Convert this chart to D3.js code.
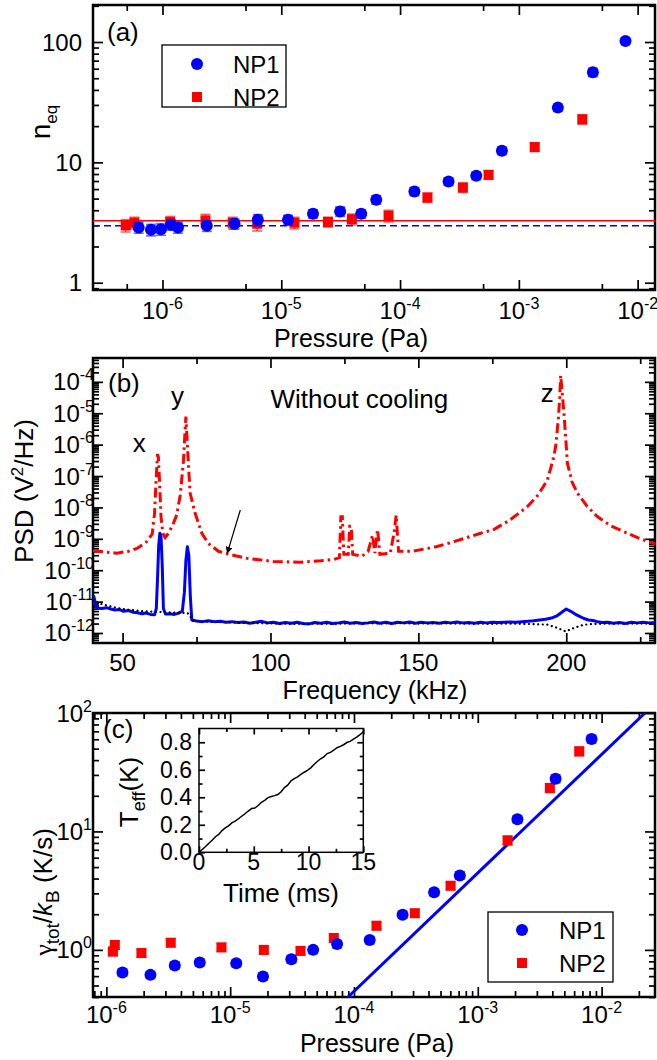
<!DOCTYPE html>
<html>
<head>
<meta charset="utf-8">
<script src="https://cdn.jsdelivr.net/npm/d3@7"></script>
<style>
  body { margin: 0; background: #fff; }
  svg { display: block; }
</style>
</head>
<body>
<div id="chart"></div>
<script>
// ---------- data: panel (a), n_eq vs pressure ----------
const pressA1 = [6.3e-7, 8.0e-7, 9.7e-7, 1.18e-6, 1.35e-6, 2.36e-6, 4.04e-6, 6.35e-6, 1.14e-5, 1.85e-5,
                 3.13e-5, 4.71e-5, 6.3e-5, 1.32e-4, 2.56e-4, 4.38e-4, 7.2e-4, 2.13e-3, 4.2e-3, 7.9e-3];
const neqA1   = [2.88, 2.75, 2.78, 3.03, 2.88, 2.97, 3.09, 3.33, 3.33, 3.74,
                 3.91, 3.74, 4.89, 5.73, 6.93, 7.73, 12.5, 28.5, 56, 102];
const errA1   = [0.3, 0.3, 0.3, 0.3, 0.3, 0.3, 0.3, 0.35, 0.3, 0.3,
                 0.35, 0.3, 0.4, 0.45, 0.5, 0.55, 0.9, 2.0, 4.5, 6];
const pressA2 = [4.9e-7, 5.8e-7, 1.16e-6, 2.3e-6, 3.9e-6, 6.27e-6, 1.29e-5, 2.47e-5, 3.93e-5, 8.0e-5,
                 1.7e-4, 3.38e-4, 5.56e-4, 1.36e-3, 3.42e-3];
const neqA2   = [2.99, 3.15, 3.2, 3.3, 3.15, 3.09, 3.15, 3.2, 3.37, 3.6, 5.1, 6.18, 7.88, 13.4, 22.8];
const errA2   = [0.35, 0.35, 0.35, 0.4, 0.35, 0.4, 0.35, 0.3, 0.35, 0.4, 0.45, 0.55, 0.65, 1.1, 2.0];
const levelA1 = 2.97;   // blue dashed
const levelA2 = 3.27;   // red solid

// ---------- data: panel (b), PSD vs frequency ----------
const freqRed = [40, 44, 48, 52, 55, 58, 60, 60.8, 61.3, 61.8, 62.1, 62.5, 63.0, 63.6, 64.4, 65.5, 67, 68.3,
                 69.5, 70.6, 71.1, 71.4, 71.7, 72.3, 72.85, 74.5, 76.8, 79, 82.4, 86, 92, 101, 110, 117,
                 121.5, 123.3, 123.8, 124.3, 124.8, 126.3, 126.8, 127.3, 127.8, 131, 133, 134.5, 135.3,
                 136.2, 137.0, 140.5, 141.8, 142.5, 143.3, 148, 156, 162, 170, 175.6, 181, 186.9, 190.5,
                 193.6, 195.5, 196.4, 197.3, 197.8, 198.1, 198.6, 199.3, 200.4, 202, 203.8, 207, 210.5,
                 215, 220.7, 225, 230];
const psdRed  = [4.2e-10, 3.8e-10, 3.5e-10, 4.0e-10, 5.0e-10, 7.9e-10, 1.4e-9, 6.3e-9, 6.3e-8, 5.0e-7, 4.0e-7,
                 6.3e-8, 5.0e-9, 1.5e-9, 1.1e-9, 1.5e-9, 2.8e-9, 5.8e-9,
                 2.5e-8, 3.2e-7, 2.5e-6, 7.8e-6, 2.3e-6, 2.0e-7, 2.8e-8, 6.6e-9, 1.5e-9, 7.1e-10, 4.0e-10,
                 3.2e-10, 2.4e-10, 1.9e-10, 1.8e-10, 2.0e-10,
                 2.2e-10, 2.5e-10, 5.0e-9, 5.0e-9, 3.2e-10, 3.2e-10, 2.5e-9, 2.5e-9, 3.2e-10, 2.8e-10,
                 4.0e-10, 1.3e-9, 3.5e-10,
                 2.0e-9, 3.2e-10, 3.5e-10, 1.6e-9, 5.6e-9, 4.0e-10, 4.0e-10, 5.6e-10, 8.1e-10, 1.4e-9,
                 2.0e-9, 4.0e-9, 1.07e-8, 2.5e-8,
                 7.4e-8, 3.2e-7, 8.5e-7, 6.3e-6, 3.2e-5, 1.6e-4, 5.0e-5, 7.8e-6, 2.5e-7, 6.3e-8, 2.8e-8,
                 1.1e-8, 5.1e-9, 2.6e-9, 1.5e-9, 1.0e-9, 6.9e-10];

const freqBlue = [40, 40.3, 40.7, 41.3, 43, 44.5, 46, 47.5, 49, 50.3, 52, 53.5, 55, 56.5, 58, 59.5, 60.8,
                  61.4, 61.8, 62.2, 62.6, 63.0, 63.4, 63.8, 64.5, 66, 67.5, 69, 70.2, 70.9, 71.4, 71.9,
                  72.4, 72.9, 73.4, 75, 77, 79, 81, 83, 85, 87, 89, 91, 93, 95, 97, 99, 101, 103, 105,
                  107, 109, 111, 113, 115, 117, 119, 121, 123, 125, 127, 129, 131, 133, 135, 137, 139,
                  141, 143, 145, 147, 149, 151, 153, 155, 157, 159, 161, 163, 165, 167, 169, 171, 173,
                  175, 177, 179, 181, 183, 185, 187, 189, 191, 193, 195, 197, 198.5, 200, 201.5, 203,
                  204.5, 206, 207.5, 209, 210.5, 212, 214, 216, 218, 220, 222, 224, 226, 228, 230];
const psdBlue  = [8.0e-12, 1.45e-11, 1.0e-11, 6.3e-12, 6.0e-12, 6.4e-12, 5.8e-12, 5.4e-12, 5.6e-12, 4.9e-12,
                  5.2e-12, 4.6e-12, 4.4e-12, 4.1e-12, 4.3e-12, 3.9e-12, 3.8e-12,
                  6e-12, 5e-11, 6e-10, 1.5e-9, 1.2e-9, 1.5e-10, 6e-12, 4.0e-12, 4.1e-12, 3.9e-12, 4.3e-12,
                  5e-12, 2e-11, 2e-10, 5.6e-10,
                  3e-10, 1.5e-11, 2.6e-12, 2.4e-12, 2.3e-12, 2.45e-12, 2.3e-12, 2.35e-12, 2.2e-12, 2.3e-12,
                  2.15e-12, 2.25e-12, 2.05e-12, 2.2e-12, 2.35e-12, 2.1e-12, 2.2e-12, 2.0e-12, 2.15e-12,
                  2.05e-12, 2.2e-12, 2.0e-12, 1.95e-12, 2.15e-12, 2.05e-12, 2.2e-12, 2.0e-12, 2.1e-12,
                  2.25e-12, 2.05e-12, 2.15e-12, 2.0e-12, 2.1e-12, 2.25e-12, 2.05e-12, 2.2e-12,
                  2.0e-12, 2.2e-12, 2.1e-12, 2.25e-12, 2.05e-12, 2.2e-12, 2.1e-12, 2.15e-12, 2.05e-12,
                  2.2e-12, 2.1e-12, 2.25e-12, 2.1e-12, 2.15e-12, 2.05e-12, 2.2e-12, 2.1e-12,
                  2.2e-12, 2.15e-12, 2.2e-12, 2.25e-12, 2.2e-12, 2.3e-12, 2.35e-12, 2.45e-12, 2.6e-12,
                  2.75e-12, 3.0e-12, 3.6e-12, 4.6e-12, 5.8e-12, 4.9e-12, 4.0e-12,
                  3.4e-12, 2.9e-12, 2.6e-12, 2.5e-12, 2.3e-12, 2.15e-12, 2.2e-12, 2.05e-12, 2.15e-12,
                  2.0e-12, 2.2e-12, 2.1e-12, 2.2e-12, 2.1e-12, 2.15e-12];

const freqDot = [40, 42, 44, 46, 48, 50, 52, 54, 56, 58, 60, 62, 64, 66, 68, 70, 72, 73, 74, 78, 84, 90,
                 96, 102, 108, 114, 120, 126, 132, 138, 144, 150, 156, 162, 168, 174, 180, 186, 190,
                 193.6, 197, 199.8, 202.6, 206, 210, 216, 222, 230];
const psdDot  = [1.1e-11, 8.8e-12, 7.8e-12, 7.0e-12, 6.3e-12, 5.9e-12, 5.5e-12, 5.3e-12, 5.0e-12, 4.9e-12,
                 4.8e-12, 4.7e-12, 4.6e-12, 4.5e-12, 4.5e-12, 4.4e-12, 4.3e-12, 3.2e-12, 2.4e-12, 2.3e-12,
                 2.2e-12, 2.1e-12, 2.05e-12, 2.0e-12, 1.95e-12, 2.0e-12, 1.95e-12, 2.0e-12, 2.05e-12,
                 2.0e-12, 2.05e-12, 2.0e-12, 2.05e-12, 2.0e-12, 2.0e-12, 1.95e-12, 2.0e-12, 1.95e-12,
                 1.9e-12, 1.84e-12, 1.45e-12, 1.12e-12, 1.45e-12, 1.84e-12, 1.95e-12, 2.0e-12, 2.0e-12,
                 2.0e-12];

// peak labels and arrow, in data units
const peakLabels = [{ t: 'x', f: 55.6, v: 5.8e-7 }, { t: 'y', f: 68.6, v: 1.8e-5 }, { t: 'z', f: 193.6, v: 2.26e-5 }];
const noteB = { t: 'Without cooling', f: 100, v: 1.46e-5 };
const arrowB = { f0: 89.8, v0: 8.3e-9, f1: 85.4, v1: 3.5e-10 };

// ---------- data: panel (c), heating rate vs pressure ----------
const pressC1 = [1.35e-6, 2.27e-6, 3.57e-6, 5.68e-6, 1.12e-5, 1.84e-5, 3.12e-5, 4.68e-5, 7.3e-5, 1.34e-4,
                 2.47e-4, 4.44e-4, 7.16e-4, 2.09e-3, 4.25e-3, 8.3e-3];
const rateC1  = [0.643, 0.615, 0.737, 0.782, 0.77, 0.595, 0.834, 1.0, 1.12, 1.21, 1.98, 3.07, 4.25, 12.7, 27.9, 60.4];
const errC1   = [0.04, 0.04, 0.05, 0.05, 0.05, 0.04, 0.06, 0.07, 0.08, 0.08, 0.13, 0.2, 0.3, 0.9, 2.2, 4.5];
const pressC2 = [1.13e-6, 1.17e-6, 1.92e-6, 3.31e-6, 8.5e-6, 1.87e-5, 3.7e-5, 6.87e-5, 1.52e-4, 3.1e-4,
                 6.03e-4, 1.74e-3, 3.82e-3, 6.6e-3];
const rateC2  = [0.97, 1.10, 0.94, 1.15, 1.05, 1.0, 0.98, 1.26, 1.6, 2.04, 3.48, 8.4, 23.3, 47.5];
const errC2   = [0.08, 0.09, 0.07, 0.09, 0.08, 0.08, 0.07, 0.1, 0.12, 0.15, 0.25, 0.7, 2.0, 4.0];
const fitPress = [8.95e-5, 2.24e-2];
const fitRate  = [0.4, 100];

// inset: T_eff vs time
const timeI = [0, 0.3, 0.6, 0.9, 1.2, 1.5, 1.8, 2.1, 2.4, 2.7, 3.0, 3.3, 3.6, 3.9, 4.2, 4.5, 4.8, 5.1, 5.4,
               5.7, 6.0, 6.3, 6.6, 6.9, 7.2, 7.5, 7.8, 8.1, 8.4, 8.7, 9.0, 9.3, 9.6, 9.9, 10.2, 10.5, 10.8,
               11.1, 11.4, 11.7, 12.0, 12.3, 12.6, 12.9, 13.2, 13.5, 13.8, 14.1, 14.4, 14.7, 15.0];
const tempI = [0.000, 0.020, 0.042, 0.066, 0.088, 0.113, 0.130, 0.158, 0.178, 0.192, 0.214, 0.226, 0.244,
               0.262, 0.280, 0.300, 0.318, 0.322, 0.340, 0.364, 0.378, 0.398, 0.406, 0.412, 0.420, 0.440,
               0.470, 0.488, 0.520, 0.536, 0.548, 0.566, 0.582, 0.596, 0.614, 0.638, 0.660, 0.680, 0.694,
               0.718, 0.726, 0.742, 0.760, 0.770, 0.782, 0.798, 0.806, 0.822, 0.838, 0.856, 0.875];

// ---------- setup ----------
const FONT = "'Liberation Sans', Arial, Helvetica, sans-serif";
const BLUE = '#0000ff', RED = '#ff0000';
const svg = d3.select('#chart').append('svg')
    .attr('width', 657).attr('height', 1060)
    .attr('font-family', FONT);

const boxA = { l: 93, t: 5, r: 655, b: 290 };
const boxB = { l: 93, t: 358, r: 655, b: 643 };
const boxC = { l: 93, t: 713, r: 655, b: 997 };
const boxI = { l: 199, t: 728.5, r: 363.3, b: 852.3 };

const xA = d3.scaleLog().domain([2.6e-7, 1.4e-2]).range([boxA.l, boxA.r]);
const yA = d3.scaleLog().domain([0.87, 203]).range([boxA.b, boxA.t]);
const xB = d3.scaleLinear().domain([40, 230]).range([boxB.l, boxB.r]);
const yB = d3.scaleLog().domain([4.8e-13, 5.75e-4]).range([boxB.b, boxB.t]);
const xC = d3.scaleLog().domain([7.8e-7, 2.7e-2]).range([boxC.l, boxC.r]);
const yC = d3.scaleLog().domain([0.4, 100]).range([boxC.b, boxC.t]);
const xI = d3.scaleLinear().domain([0, 15]).range([boxI.l, boxI.r]);
const yI = d3.scaleLinear().domain([0, 0.9]).range([boxI.b, boxI.t]);

// ticks of a log scale at the given multipliers of each decade
function logTicks(scale, mults) {
    const [lo, hi] = scale.domain();
    const out = [];
    for (let e = Math.floor(Math.log10(lo)); e <= Math.ceil(Math.log10(hi)); e++) {
        mults.forEach(m => {
            const v = m * Math.pow(10, e);
            if (v >= lo && v <= hi) out.push(v);
        });
    }
    return out;
}
const MINOR = [2, 3, 4, 5, 6, 7, 8, 9];

// frame with inward ticks on all four sides
function frame(box, x, y, xMaj, xMin, yMaj, yMin, big, small, sw) {
    const g = svg.append('g');
    const sides = [
        [d3.axisBottom, x, `translate(0,${box.b})`, xMaj, xMin],
        [d3.axisTop, x, `translate(0,${box.t})`, xMaj, xMin],
        [d3.axisLeft, y, `translate(${box.l},0)`, yMaj, yMin],
        [d3.axisRight, y, `translate(${box.r},0)`, yMaj, yMin]
    ];
    sides.forEach(([axis, s, tr, maj, min]) => {
        [[maj, big], [min, small]].forEach(([vals, len]) => {
            g.append('g').attr('transform', tr)
                .call(axis(s).tickValues(vals).tickSize(-len).tickSizeOuter(0).tickFormat(''))
                .call(a => a.select('.domain').remove())
                .selectAll('line').attr('stroke', '#000').attr('stroke-width', 1.7);
        });
    });
    g.append('rect')
        .attr('x', box.l).attr('y', box.t)
        .attr('width', box.r - box.l).attr('height', box.b - box.t)
        .attr('fill', 'none').attr('stroke', '#000').attr('stroke-width', sw);
    return g;
}

function clip(id, box) {
    svg.append('clipPath').attr('id', id).append('rect')
        .attr('x', box.l).attr('y', box.t).attr('width', box.r - box.l).attr('height', box.b - box.t);
    return `url(#${id})`;
}

// "10" with superscript exponent
function powLabel(x, y, exp, anchor) {
    const t = svg.append('text').attr('x', x).attr('y', y)
        .attr('text-anchor', anchor).attr('font-size', 24);
    t.append('tspan').text('10');
    t.append('tspan').attr('dy', -10).attr('font-size', 16).text(exp);
    return t;
}

function plainLabel(x, y, s, anchor, size) {
    return svg.append('text').attr('x', x).attr('y', y)
        .attr('text-anchor', anchor).attr('font-size', size).text(s);
}

// scatter with error bars
function scatter(x, y, P, V, E, kind, color) {
    const g = svg.append('g');
    P.forEach((p, i) => {
        const cx = x(p), y0 = y(V[i] - E[i]), y1 = y(V[i] + E[i]);
        g.append('line').attr('x1', cx).attr('x2', cx).attr('y1', y0).attr('y2', y1)
            .attr('stroke', color).attr('stroke-width', 1.6).attr('opacity', 0.6);
        [y0, y1].forEach(yy => g.append('line')
            .attr('x1', cx - 5).attr('x2', cx + 5).attr('y1', yy).attr('y2', yy)
            .attr('stroke', color).attr('stroke-width', 1.6).attr('opacity', 0.6));
    });
    P.forEach((p, i) => marker(g, x(p), y(V[i]), kind, color));
}

function marker(g, cx, cy, kind, color) {
    if (kind === 'circle') {
        g.append('circle').attr('cx', cx).attr('cy', cy).attr('r', 6).attr('fill', color);
    } else {
        g.append('rect').attr('x', cx - 5).attr('y', cy - 5).attr('width', 10).attr('height', 10).attr('fill', color);
    }
}

function legend(x0, y0, w, h, mx, tx, rows) {
    svg.append('rect').attr('x', x0).attr('y', y0).attr('width', w).attr('height', h)
        .attr('fill', '#fff').attr('stroke', '#000').attr('stroke-width', 1.3);
    rows.forEach(r => {
        marker(svg, mx, r.y, r.kind, r.color);
        plainLabel(tx, r.y + 9, r.label, 'start', 24);
    });
}

// ================= panel (a) =================
frame(boxA, xA, yA,
    logTicks(xA, [1]), logTicks(xA, [5]),
    logTicks(yA, [1]), logTicks(yA, MINOR), 10, 6, 2.5);

const clipA = clip('clipA', boxA);
svg.append('line').attr('clip-path', clipA)
    .attr('x1', boxA.l).attr('x2', boxA.r).attr('y1', yA(levelA2)).attr('y2', yA(levelA2))
    .attr('stroke', RED).attr('stroke-width', 1.5);
svg.append('line').attr('clip-path', clipA)
    .attr('x1', boxA.l).attr('x2', boxA.r).attr('y1', yA(levelA1)).attr('y2', yA(levelA1))
    .attr('stroke', BLUE).attr('stroke-width', 1.5).attr('stroke-dasharray', '7,4');

scatter(xA, yA, pressA2, neqA2, errA2, 'square', RED);
scatter(xA, yA, pressA1, neqA1, errA1, 'circle', BLUE);

['-6', '-5', '-4', '-3', '-2'].forEach((e, i) => powLabel(xA(Math.pow(10, -6 + i)), 319, e, 'middle'));
[1, 10, 100].forEach(v => plainLabel(82, yA(v) + 8.5, String(v), 'end', 24));
plainLabel(351, 347, 'Pressure (Pa)', 'middle', 25);
{
    const t = svg.append('text').attr('transform', 'translate(50,122) rotate(-90)')
        .attr('text-anchor', 'middle').attr('font-size', 28);
    t.append('tspan').text('n');
    t.append('tspan').attr('dy', 7).attr('font-size', 17).text('eq');
}
plainLabel(boxA.l + 14, boxA.t + 36, '(a)', 'start', 26);
legend(162, 45, 124, 62, 197, 233, [
    { y: 64, kind: 'circle', color: BLUE, label: 'NP1' },
    { y: 97, kind: 'square', color: RED, label: 'NP2' }
]);

// ================= panel (b) =================
frame(boxB, xB, yB,
    [50, 100, 150, 200], [75, 125, 175, 225],
    logTicks(yB, [1]), logTicks(yB, MINOR), 10, 6, 2.5);

const clipB = clip('clipB', boxB);
const lineB = (F, V) => d3.line().x((d, i) => xB(F[i])).y((d, i) => yB(V[i]))(F);

svg.append('path').attr('clip-path', clipB).attr('d', lineB(freqBlue, psdBlue))
    .attr('fill', 'none').attr('stroke', BLUE).attr('stroke-width', 3).attr('stroke-linejoin', 'round');
svg.append('path').attr('clip-path', clipB).attr('d', lineB(freqDot, psdDot))
    .attr('fill', 'none').attr('stroke', '#000').attr('stroke-width', 2.2)
    .attr('stroke-linecap', 'round').attr('stroke-dasharray', '0.1,4.5');
svg.append('path').attr('clip-path', clipB).attr('d', lineB(freqRed, psdRed))
    .attr('fill', 'none').attr('stroke', RED).attr('stroke-width', 3)
    .attr('stroke-dasharray', '10,4,2.5,4');

peakLabels.forEach(p => plainLabel(xB(p.f), yB(p.v), p.t, 'middle', 26));
plainLabel(xB(noteB.f), yB(noteB.v), noteB.t, 'start', 26);
plainLabel(boxB.l + 15, boxB.t + 34, '(b)', 'start', 26);

svg.append('defs').append('marker')
    .attr('id', 'arrowHead').attr('viewBox', '0 0 10 10').attr('refX', 9).attr('refY', 5)
    .attr('markerWidth', 7).attr('markerHeight', 7).attr('markerUnits', 'userSpaceOnUse')
    .attr('orient', 'auto')
    .append('path').attr('d', 'M0,0L10,5L0,10Z').attr('fill', '#000');
svg.append('line')
    .attr('x1', xB(arrowB.f0)).attr('y1', yB(arrowB.v0))
    .attr('x2', xB(arrowB.f1)).attr('y2', yB(arrowB.v1))
    .attr('stroke', '#000').attr('stroke-width', 1.2).attr('marker-end', 'url(#arrowHead)');

[50, 100, 150, 200].forEach(v => plainLabel(xB(v), 671, String(v), 'middle', 24));
[-4, -5, -6, -7, -8, -9, -10, -11, -12].forEach(e => powLabel(94, yB(Math.pow(10, e)) + 8.5, String(e), 'end'));
plainLabel(375, 699, 'Frequency (kHz)', 'middle', 25);
{
    const t = svg.append('text').attr('transform', 'translate(33,491) rotate(-90)')
        .attr('text-anchor', 'middle').attr('font-size', 26);
    t.append('tspan').text('PSD (V');
    t.append('tspan').attr('dy', -10).attr('font-size', 17).text('2');
    t.append('tspan').attr('dy', 10).text('/Hz)');
}

// ================= panel (c) =================
frame(boxC, xC, yC,
    logTicks(xC, [1]), logTicks(xC, MINOR),
    logTicks(yC, [1]), logTicks(yC, MINOR), 10, 6, 2.5);

const clipC = clip('clipC', boxC);
svg.append('path').attr('clip-path', clipC)
    .attr('d', d3.line().x((d, i) => xC(fitPress[i])).y((d, i) => yC(fitRate[i]))(fitPress))
    .attr('fill', 'none').attr('stroke', BLUE).attr('stroke-width', 3);

scatter(xC, yC, pressC2, rateC2, errC2, 'square', RED);
scatter(xC, yC, pressC1, rateC1, errC1, 'circle', BLUE);

['-6', '-5', '-4', '-3', '-2'].forEach((e, i) => powLabel(xC(Math.pow(10, -6 + i)), 1023, e, 'middle'));
['0', '1', '2'].forEach((e, i) => powLabel(92, yC(Math.pow(10, i)) + 8.5, e, 'end'));
plainLabel(377, 1052, 'Pressure (Pa)', 'middle', 25);
{
    const t = svg.append('text').attr('transform', 'translate(52,892) rotate(-90)')
        .attr('text-anchor', 'middle').attr('font-size', 26);
    t.append('tspan').attr('font-family', "'Liberation Serif', 'DejaVu Serif', serif").text('γ');
    t.append('tspan').attr('dy', 7).attr('font-size', 19).text('tot');
    t.append('tspan').attr('dy', -7).text('/');
    t.append('tspan').attr('font-style', 'italic').text('k');
    t.append('tspan').attr('dy', 7).attr('font-size', 19).text('B');
    t.append('tspan').attr('dy', -7).text(' (K/s)');
}
plainLabel(boxC.l + 10, boxC.t + 25, '(c)', 'start', 26);
legend(488, 912, 125, 70, 522, 559, [
    { y: 930, kind: 'circle', color: BLUE, label: 'NP1' },
    { y: 963, kind: 'square', color: RED, label: 'NP2' }
]);

// ---------- inset ----------
svg.append('rect').attr('x', boxI.l).attr('y', boxI.t)
    .attr('width', boxI.r - boxI.l).attr('height', boxI.b - boxI.t).attr('fill', '#fff');
svg.append('path')
    .attr('d', d3.line().x((d, i) => xI(timeI[i])).y((d, i) => yI(tempI[i]))(timeI))
    .attr('fill', 'none').attr('stroke', '#000').attr('stroke-width', 1.5);
frame(boxI, xI, yI, [0, 5, 10, 15], [2.5, 7.5, 12.5],
    [0, 0.2, 0.4, 0.6, 0.8], [0.1, 0.3, 0.5, 0.7], 6, 3.5, 1.5);
[0, 5, 10, 15].forEach(v => plainLabel(xI(v), 870, String(v), 'middle', 23));
[0, 0.2, 0.4, 0.6, 0.8].forEach(v => plainLabel(192, yI(v) + 8, v.toFixed(1), 'end', 23));
plainLabel(281, 902, 'Time (ms)', 'middle', 26);
{
    const t = svg.append('text').attr('transform', 'translate(138,792) rotate(-90)')
        .attr('text-anchor', 'middle').attr('font-size', 26);
    t.append('tspan').text('T');
    t.append('tspan').attr('dy', 7).attr('font-size', 18).text('eff');
    t.append('tspan').attr('dy', -7).text('(K)');
}
</script>
</body>
</html>
